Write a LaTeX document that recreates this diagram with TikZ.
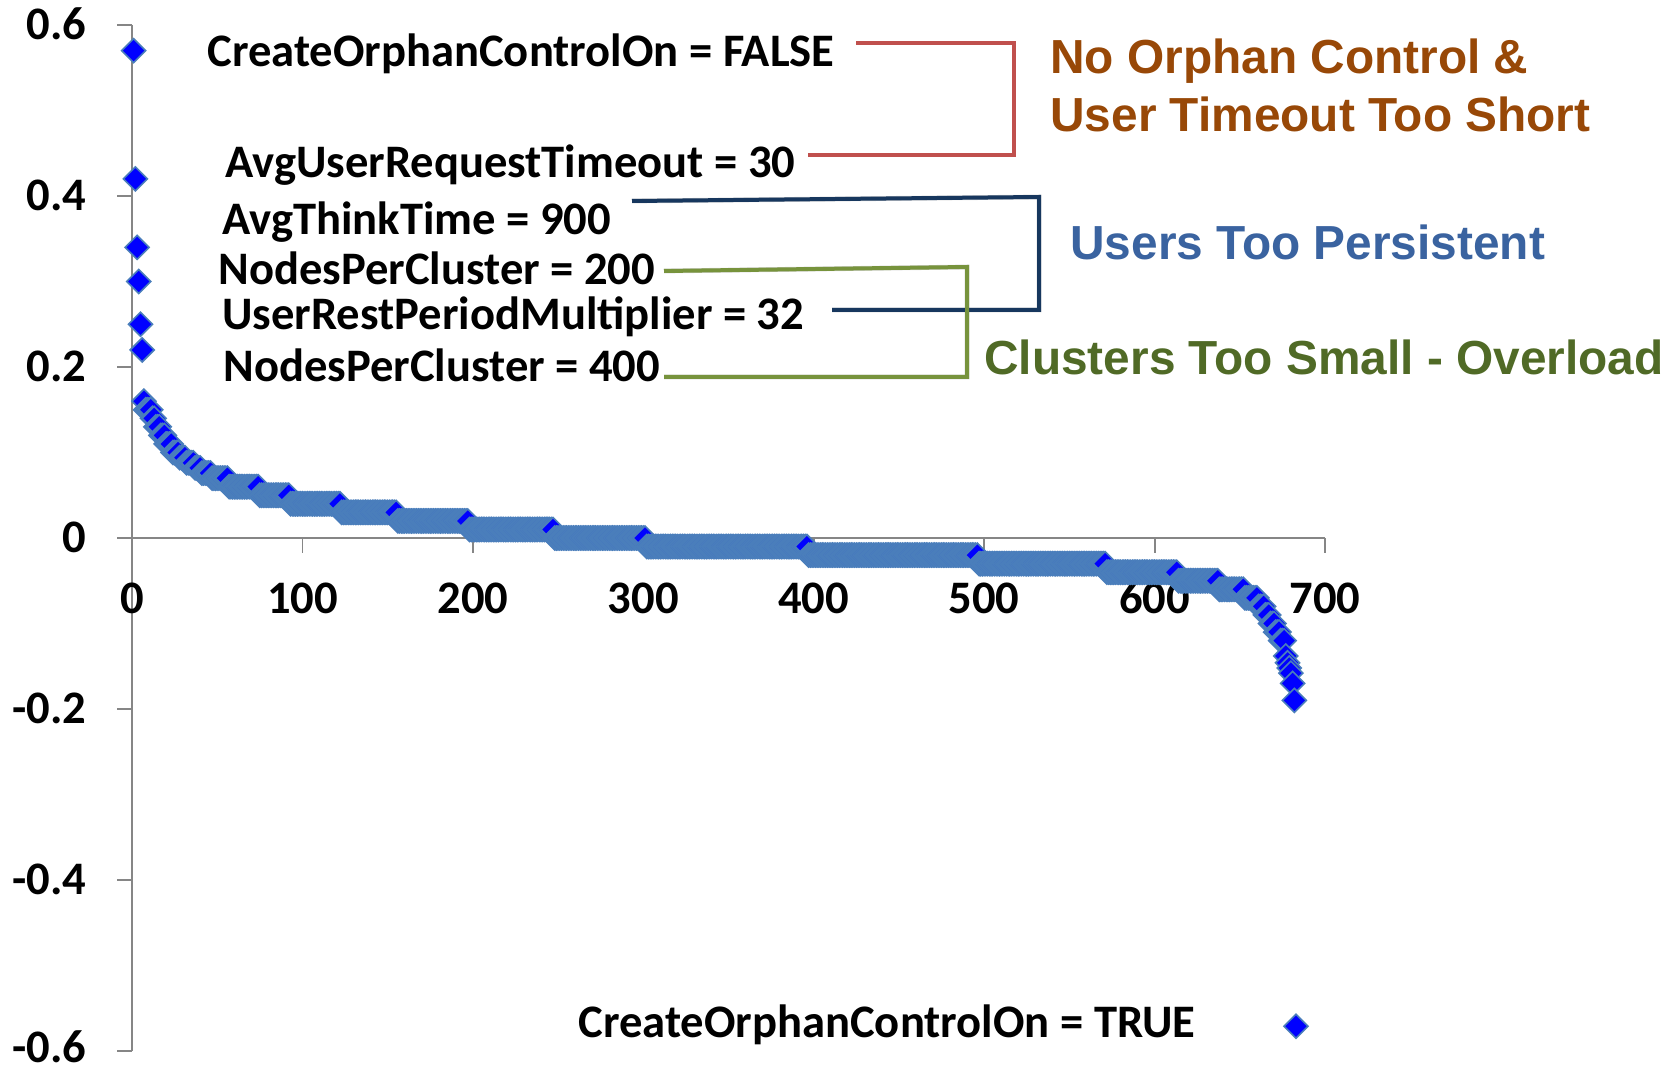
\documentclass[tikz,border=0pt]{standalone}
\usepackage{fontspec}
\setmainfont{Carlito}
\newfontfamily\arialf{Liberation Sans}
\definecolor{axisgray}{HTML}{868686}
\definecolor{steel}{HTML}{4A7EBB}
\definecolor{mkblue}{HTML}{0000FF}
\definecolor{redbr}{HTML}{C0504D}
\definecolor{navybr}{HTML}{17375E}
\definecolor{greenbr}{HTML}{77933C}
\definecolor{orangetx}{HTML}{984807}
\definecolor{bluetx}{HTML}{3A63A0}
\definecolor{greentx}{HTML}{506A26}
\newcommand\mkhd{6pt}
\begin{document}
\begin{tikzpicture}[x=0.5pt,y=-0.5pt,
  lbl/.style={font=\bfseries\fontsize{23.3}{28}\selectfont, inner sep=0pt, anchor=base west},
  note/.style={font=\arialf\bfseries\fontsize{23.9}{28}\selectfont, inner sep=0pt, anchor=base west},
  ytl/.style={font=\bfseries\fontsize{23.3}{28}\selectfont, inner sep=0pt, anchor=base east},
  xtl/.style={font=\bfseries\fontsize{23.3}{28}\selectfont, inner sep=0pt, anchor=base},
  axisln/.style={draw=axisgray, line width=0.9pt},
  mk/.style={fill=mkblue, draw=steel, line width=0.8pt},
  bracket/.style={line width=2pt},
  brshadow/.style={line width=2.4pt, draw=black, opacity=0.16, xshift=1.5pt, yshift=-1.5pt},
]
\useasboundingbox (0,0) rectangle (1680,1069);
\fill[white] (0,0) rectangle (1680,1069);

\begin{scope}[shift={(66pt,-269pt)}, x=0.85215pt, y=427.5pt]
  \coordinate (origin) at (0,0);
  \draw[axisln] (0,0.6) -- (0,-0.6);
  \foreach \v/\n/\ys in {0.6/a/-7.3pt,0.4/b/-7.3pt,0.2/c/-7.3pt,0/d/-7.3pt,-0.2/e/-7.3pt,-0.4/f/-7.3pt,-0.6/g/-5.8pt}{
    \draw[axisln] (0,\v) -- ++(-7.5pt,0);
    \node[ytl] (ylab\n) at (0,\v) [xshift=-22.5pt, yshift=\ys] {\v};
  }
  \draw[axisln] (0,0) -- (700,0);
  \foreach \i in {0,100,...,700}{
    \draw[axisln] (\i,0) -- ++(0,-7.5pt);
    \node[xtl] (xlab\i) at (\i,0) [yshift=-37.5pt] {\i};
  }
  \foreach \s/\e/\v in {1/1/0.57,2/2/0.42,3/3/0.34,4/4/0.30,5/5/0.25,6/6/0.22,
      7/7/0.16,8/11/0.15,12/13/0.14,14/16/0.13,17/19/0.12,20/23/0.11,24/27/0.10,
      28/31/0.094,32/36/0.088,37/40/0.082,41/46/0.076,47/56/0.07,57/74/0.06,
      75/92/0.05,93/122/0.04,123/155/0.03,156/197/0.02,198/247/0.01,248/301/0.0,
      302/396/-0.01,397/496/-0.02,497/571/-0.03,572/613/-0.04,614/637/-0.05,
      638/652/-0.06,653/660/-0.07,661/664/-0.08,665/667/-0.09,668/670/-0.10,
      671/673/-0.11,674/676/-0.12,677/677/-0.138,678/678/-0.146,679/679/-0.152,
      680/680/-0.158,681/681/-0.17,682/682/-0.19,683/683/-0.571}{
    \foreach \i in {\s,...,\e}{
      \filldraw[mk] (\i,\v) ++(-\mkhd,0pt) -- ++(\mkhd,\mkhd) -- ++(\mkhd,-\mkhd) -- ++(-\mkhd,-\mkhd) -- cycle;
    }
  }
\end{scope}

% parameter labels
\node[lbl] (pfalse) at (207,67) {CreateOrphanControlOn = FALSE};
\node[lbl] (ptimeout) at (225,178) {AvgUserRequestTimeout = 30};
\node[lbl] (pthink) at (222,235) {AvgThinkTime = 900};
\node[lbl] (pnodesa) at (218,285) {NodesPerCluster = 200};
\node[lbl] (prest) at (222,330) {UserRestPeriodMultiplier = 32};
\node[lbl] (pnodesb) at (223,381) {NodesPerCluster = 400};
\node[lbl] (ptrue) at (578,1037) {CreateOrphanControlOn = TRUE};

% notes
\node[note, text=orangetx] (norphan) at (1050,74) {No Orphan Control \&};
\node[note, text=orangetx] (ntimeout) at (1050,132) {User Timeout Too Short};
\node[note, text=bluetx] (npersist) at (1070,260) {Users Too Persistent};
\node[note, text=greentx] (nclusters) at (984,374) {Clusters Too Small - Overload};

% brackets
\coordinate (ra) at (856,43);  \coordinate (rb) at (1014,43);
\coordinate (rc) at (1014,155); \coordinate (rd) at (808,155);
\coordinate (na) at (632,201); \coordinate (nb) at (1039,197);
\coordinate (nc) at (1039,310); \coordinate (nd) at (832,310);
\coordinate (ga) at (664,271); \coordinate (gb) at (967,267);
\coordinate (gc) at (967,377); \coordinate (gd) at (664,377);

\draw[brshadow] (ra) -- (rb) -- (rc) -- (rd);
\draw[brshadow] (na) -- (nb) -- (nc) -- (nd);
\draw[brshadow] (ga) -- (gb) -- (gc) -- (gd);
\draw[bracket, draw=redbr] (ra) -- (rb) -- (rc) -- (rd);
\draw[bracket, draw=navybr] (na) -- (nb) -- (nc) -- (nd);
\draw[bracket, draw=greenbr] (ga) -- (gb) -- (gc) -- (gd);
\end{tikzpicture}
\end{document}
